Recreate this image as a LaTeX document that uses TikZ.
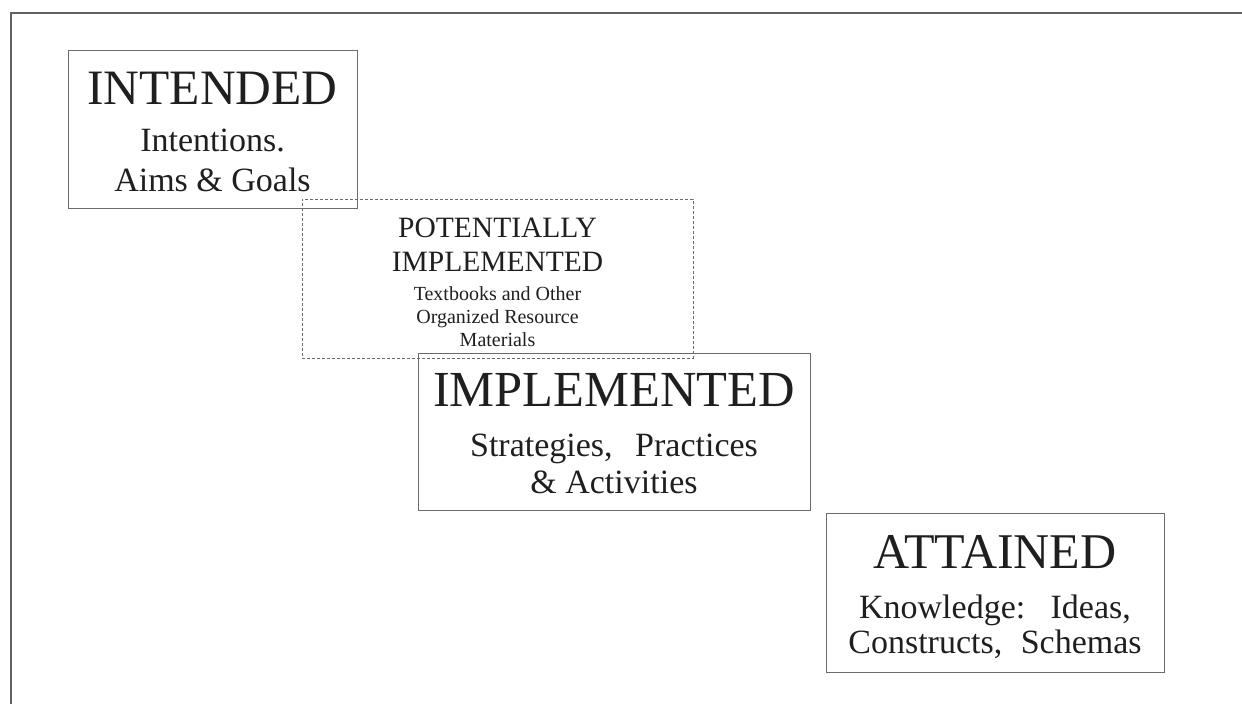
\documentclass[tikz,border=0pt]{standalone}
\usepackage{fontspec}
\setmainfont{Liberation Serif}
\usetikzlibrary{positioning}

\begin{document}
\begin{tikzpicture}[x=1pt,y=-1pt,
				line width=1.2pt]
				\tikzstyle{stage}=[rectangle,draw=black!58,anchor=north west,inner sep=0pt]
				\tikzstyle{stage text}=[anchor=base,align=center,text=black!88,inner sep=0pt]
				\useasboundingbox (0,0) rectangle (1242,704);
				\draw[black!62,line width=2pt] (11,704) -- (11,13) -- (1242,13);
				
				\node[stage,minimum width=289pt,minimum height=158pt] (Int) at (68,50) {};
				\node[stage,dash pattern=on 3pt off 2pt,line width=0.9pt,
				minimum width=391pt,minimum height=159pt] (Pot) at (302,199) {};
				\node[stage,minimum width=392pt,minimum height=157pt] (Imp) at (418,353) {};
				\node[stage,minimum width=338pt,minimum height=159pt] (Att) at (826,513) {};
				
				\node[stage text,font=\fontsize{34}{40}\selectfont] (IntT) at (212.5,191.7)
				{{\fontsize{49.5}{49.5}\selectfont INTENDED}\\[7.4pt]Intentions.\\Aims \& Goals};
				\node[stage text,font=\fontsize{20}{23}\selectfont] (PotT) at (497.5,346)
				{{\fontsize{29.5}{29.5}\selectfont POTENTIALLY}\\[11.5pt]{\fontsize{29.5}{29.5}\selectfont IMPLEMENTED}\\[5.5pt]Textbooks and Other\\Organized Resource\\Materials};
				\node[stage text,font=\fontsize{34}{36.6}\selectfont] (ImpT) at (614,493.3)
				{{\fontsize{50.5}{50.5}\selectfont IMPLEMENTED}\\[13.4pt]Strategies,\hspace{14pt} Practices\\\& Activities};
				\node[stage text,font=\fontsize{34}{35}\selectfont] (AttT) at (995,653.3)
				{{\fontsize{50}{50}\selectfont ATTAINED}\\[15.3pt]Knowledge:\hspace{14pt} Ideas,\\Constructs,\hspace{10pt} Schemas};
			\end{tikzpicture}
\end{document}
